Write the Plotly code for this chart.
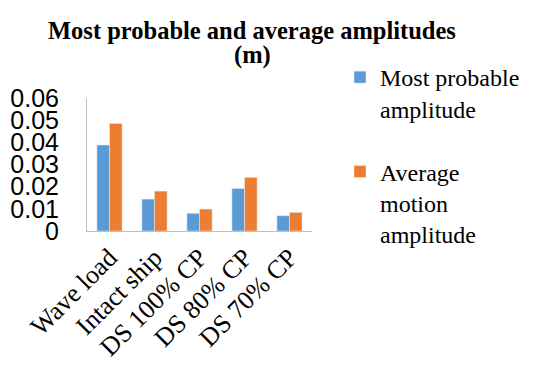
import plotly.graph_objects as go

categories = ["Wave load", "Intact ship", "DS 100% CP", "DS 80% CP", "DS 70% CP"]
most_probable = [0.0388, 0.0144, 0.0080, 0.0192, 0.0069]
average_motion = [0.0485, 0.0180, 0.0099, 0.0242, 0.0084]
y_ticks = [0, 0.01, 0.02, 0.03, 0.04, 0.05, 0.06]
y_tick_text = ["0", "0.01", "0.02", "0.03", "0.04", "0.05", "0.06"]
title_lines = ["Most probable and average amplitudes", "(m)"]

serif = "Liberation Serif, Times New Roman, serif"
sans = "Liberation Sans, Arial, sans-serif"

W, H = 538, 372

fig = go.Figure()
fig.add_trace(go.Bar(x=categories, y=most_probable, name="Most probable<br>amplitude",
                     marker_color="#5B9BD5", legendgroup="a"))
fig.add_trace(go.Bar(x=categories, y=average_motion, name="Average<br>motion<br>amplitude",
                     marker_color="#ED7D31", legendgroup="b"))

# two-line bold title, placed by pixel rows of the page
for line, ypx in zip(title_lines, [30, 55]):
    fig.add_annotation(text="<b>" + line + "</b>", xref="paper", yref="paper",
                       x=(252 - 87) / 225, y=(231 - ypx) / 133,
                       xanchor="center", yanchor="middle", showarrow=False,
                       font=dict(family=serif, size=24.5, color="black"))

fig.update_layout(
    width=W, height=H,
    paper_bgcolor="white", plot_bgcolor="white",
    margin=dict(l=87, r=226, t=98, b=141, autoexpand=False),
    barmode="group", bargap=0.44, bargroupgap=0,
    legend=dict(xref="container", yref="container",
                x=340 / W, xanchor="left", y=1 - 55 / H, yanchor="top",
                font=dict(family=serif, size=24, color="black"),
                traceorder="grouped", tracegroupgap=29, valign="top",
                itemwidth=30, maxheight=1.0),
    xaxis=dict(showline=True, linecolor="#BFBFBF", linewidth=1, ticks="",
               tickangle=-45, tickfont=dict(family=serif, size=26, color="black"),
               showgrid=False),
    yaxis=dict(range=[0, 0.06], showline=True, linecolor="#BFBFBF", linewidth=1,
               tickvals=y_ticks, ticktext=y_tick_text, showgrid=False, zeroline=False,
               tickfont=dict(family=sans, size=25, color="black"), ticklabelstandoff=22),
)

fig.write_html("out.html")
